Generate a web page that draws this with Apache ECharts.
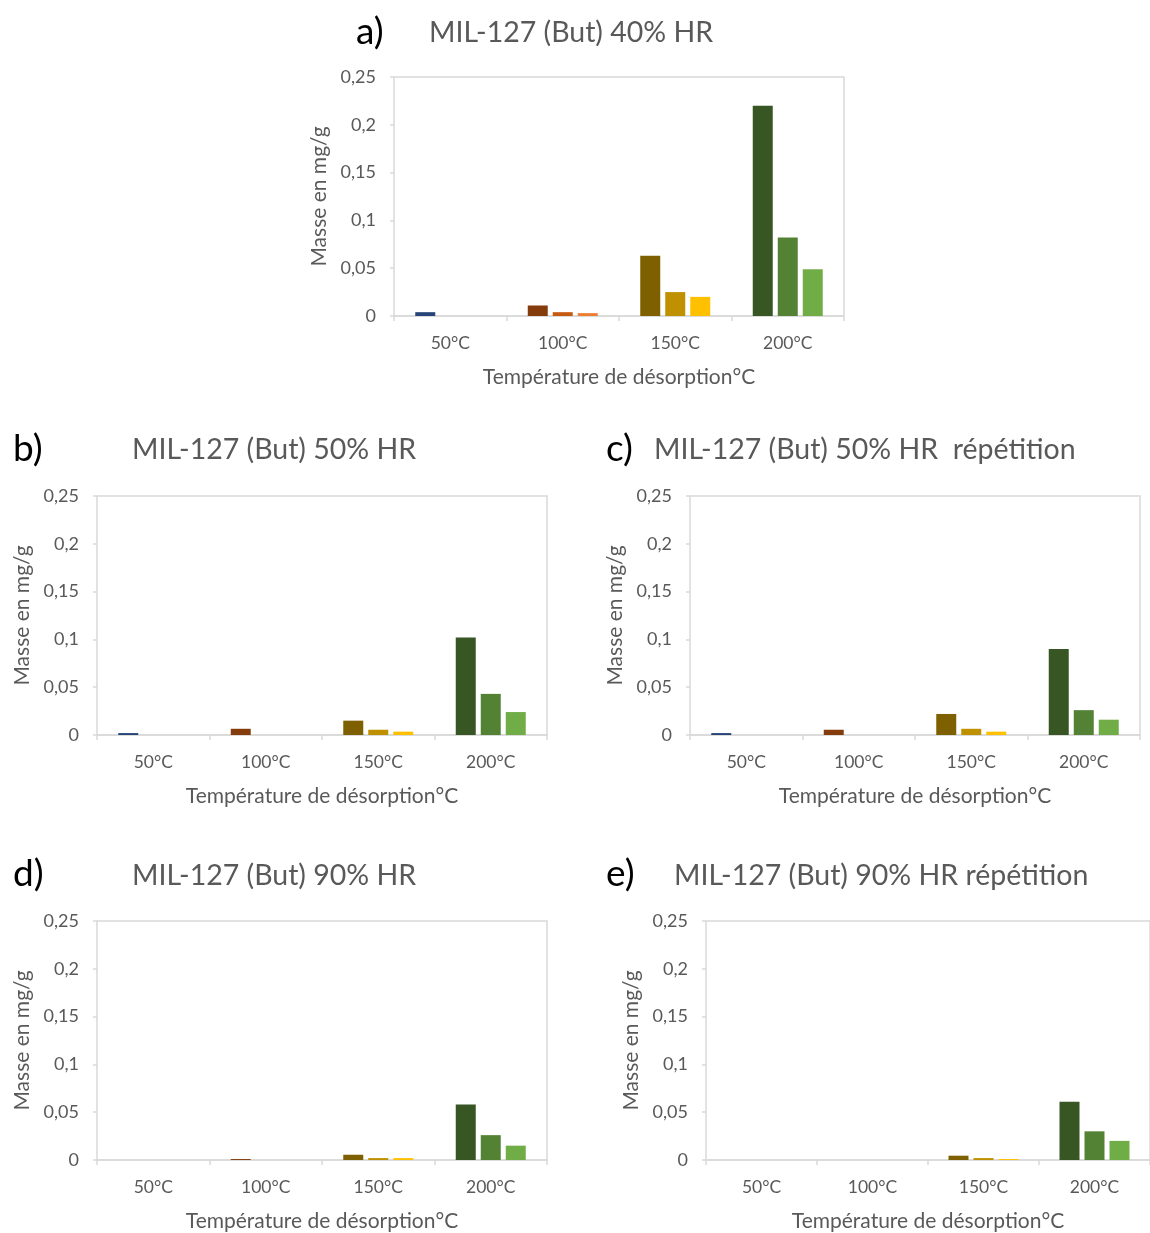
<!DOCTYPE html>
<html>
<head>
<meta charset="utf-8">
<title>MIL-127 (But) - masse désorbée</title>
<script src="https://cdn.jsdelivr.net/npm/echarts@6/dist/echarts.min.js"></script>
<style>
  html, body { margin: 0; padding: 0; background: #fff; }
  #chart { width: 1150px; height: 1233px; }
</style>
</head>
<body>
<div id="chart"></div>
<script>
const categories = ["50°C", "100°C", "150°C", "200°C"];
const yTicks = ["0", "0,05", "0,1", "0,15", "0,2", "0,25"];

// 1st, 2nd and 3rd bar of each temperature, per panel
const hr40_1 = [0.004, 0.011, 0.063, 0.220];
const hr40_2 = [0, 0.004, 0.025, 0.082];
const hr40_3 = [0, 0.003, 0.020, 0.049];

const hr50_1 = [0.002, 0.0065, 0.015, 0.102];
const hr50_2 = [0, 0, 0.0055, 0.043];
const hr50_3 = [0, 0, 0.0035, 0.024];

const hr50rep_1 = [0.002, 0.0055, 0.022, 0.090];
const hr50rep_2 = [0, 0, 0.0065, 0.026];
const hr50rep_3 = [0, 0, 0.0035, 0.016];

const hr90_1 = [0, 0.001, 0.0055, 0.058];
const hr90_2 = [0, 0, 0.002, 0.026];
const hr90_3 = [0, 0, 0.002, 0.015];

const hr90rep_1 = [0, 0, 0.0045, 0.061];
const hr90rep_2 = [0, 0, 0.002, 0.030];
const hr90rep_3 = [0, 0, 0.001, 0.020];

// colour of each bar, by bar position then temperature
const barColors = [
  ["#264478", "#843C0C", "#7F6000", "#375623"],
  ["#4472C4", "#C55A11", "#BF9000", "#548235"],
  ["#5B9BD5", "#ED7D31", "#FFC000", "#70AD47"],
];

const panels = [
  { letter: "a)", title: "MIL-127 (But) 40% HR", series: [hr40_1, hr40_2, hr40_3],
    grid: { left: 394, top: 77, width: 450, height: 239 }, letterPos: [351, 9], titlePos: [424, 13] },
  { letter: "b)", title: "MIL-127 (But) 50% HR", series: [hr50_1, hr50_2, hr50_3],
    grid: { left: 97, top: 496, width: 450, height: 239 }, letterPos: [8, 426], titlePos: [127, 430] },
  { letter: "c)", title: "MIL-127 (But) 50% HR  répétition", series: [hr50rep_1, hr50rep_2, hr50rep_3],
    grid: { left: 690, top: 496, width: 450, height: 239 }, letterPos: [601, 426], titlePos: [649, 430] },
  { letter: "d)", title: "MIL-127 (But) 90% HR", series: [hr90_1, hr90_2, hr90_3],
    grid: { left: 97, top: 921, width: 450, height: 240 }, letterPos: [8, 851], titlePos: [127, 856] },
  { letter: "e)", title: "MIL-127 (But) 90% HR répétition", series: [hr90rep_1, hr90rep_2, hr90rep_3],
    grid: { left: 706, top: 921, width: 450, height: 240 }, letterPos: [601, 851], titlePos: [669, 856] },
];

const FONT = "Lato";
const GREY = "#595959";
const LINE = "#D9D9D9";

const chart = echarts.init(document.getElementById("chart"));

const titles = [];
const grids = [];
const xAxes = [];
const yAxes = [];
const series = [];

panels.forEach((p, i) => {
  titles.push({
    text: p.letter, left: p.letterPos[0], top: p.letterPos[1],
    textStyle: { fontFamily: FONT, fontSize: 37, fontWeight: "normal", color: "#000" },
  });
  titles.push({
    text: p.title, left: p.titlePos[0], top: p.titlePos[1],
    textStyle: { fontFamily: FONT, fontSize: 28.5, fontWeight: "normal", color: GREY },
  });

  grids.push(Object.assign({ show: true, borderColor: LINE, borderWidth: 1.5, backgroundColor: "#fff" }, p.grid));

  xAxes.push({
    type: "category", gridIndex: i, data: categories,
    name: "Température de désorption°C", nameLocation: "middle", nameGap: 51,
    nameTextStyle: { fontFamily: FONT, fontSize: 21, color: GREY },
    axisLine: { lineStyle: { color: LINE, width: 1.5 } },
    axisTick: { show: true, length: 5, lineStyle: { color: LINE, width: 1.5 } },
    axisLabel: { fontFamily: FONT, fontSize: 17.5, color: GREY, margin: 18 },
    splitLine: { show: false },
  });

  yAxes.push({
    type: "value", gridIndex: i, min: 0, max: 0.25, interval: 0.05,
    name: "Masse en mg/g", nameLocation: "middle", nameGap: 64,
    nameTextStyle: { fontFamily: FONT, fontSize: 21, color: GREY },
    axisLine: { show: false },
    axisTick: { show: true, length: 4, lineStyle: { color: LINE, width: 1.5 } },
    axisLabel: {
      fontFamily: FONT, fontSize: 18, color: GREY, margin: 18,
      formatter: (v) => yTicks[Math.round(v / 0.05)],
    },
    splitLine: { show: false },
  });

  p.series.forEach((values, k) => {
    series.push({
      type: "bar", xAxisIndex: i, yAxisIndex: i,
      barWidth: 20, barGap: "25%",
      data: values.map((v, c) => ({ value: v, itemStyle: { color: barColors[k][c] } })),
    });
  });
});

chart.setOption({
  animation: false,
  backgroundColor: "#fff",
  title: titles,
  grid: grids,
  xAxis: xAxes,
  yAxis: yAxes,
  series: series,
});

window.addEventListener("resize", () => chart.resize());
</script>
</body>
</html>
